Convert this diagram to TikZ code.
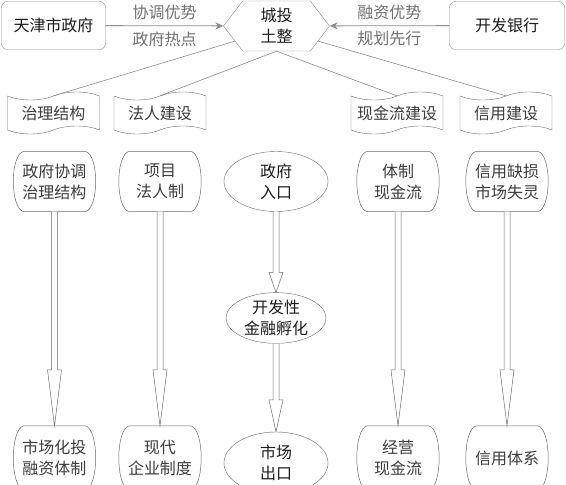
\documentclass[tikz,border=0pt]{standalone}
\usepackage{fontspec}
\setmainfont{Noto Sans CJK SC}
\usepackage{tikz}
\usetikzlibrary{arrows.meta,positioning,calc,shapes.geometric,shapes.symbols}
\definecolor{edge}{HTML}{8C8C8C}
\definecolor{softedge}{HTML}{6A6A6A}
\definecolor{labeltext}{HTML}{707070}
\definecolor{ink}{HTML}{1C1C1C}
\definecolor{softink}{HTML}{3C3C3C}

% hollow downward arrow: from node, to node, head length
\newcommand{\hollowdown}[3]{%
  \draw[outline] ($(#1.south)+(-3,0)$) -- ($(#2.north)+(-3,#3)$) -- ($(#2.north)+(-7,#3)$)
    -- (#2.north) -- ($(#2.north)+(7,#3)$) -- ($(#2.north)+(3,#3)$) -- ($(#1.south)+(3,0)$);}

\begin{document}
\begin{tikzpicture}[x=1pt,y=1pt,
    txt/.style={font=\fontsize{16}{21}\selectfont,align=center},
    govbox/.style={txt,draw=edge,rounded corners=6pt,minimum height=48pt,text=ink},
    hexnode/.style={txt,signal,signal to=west and east,signal pointer angle=105,draw=edge,
      minimum width=106pt,minimum height=50pt,inner sep=0pt,text=ink},
    tapebox/.style={txt,tape,draw=softedge,minimum width=92pt,minimum height=42pt,
      tape bend height=8pt,inner sep=0pt,text=softink},
    bulge/.style={txt,minimum width=77pt,minimum height=60pt,inner sep=0pt,text=softink},
    frame/.style={draw=softedge,line width=0.5pt},
    oval/.style={txt,ellipse,draw=softedge,minimum width=104pt,minimum height=60pt,
      inner sep=0pt,text=ink},
    feed/.style={draw=edge,line width=0.8pt,-{Stealth[length=8pt,width=7pt]}},
    spoke/.style={draw=edge,line width=0.6pt},
    outline/.style={draw=softedge,fill=white,line width=0.5pt,line join=miter},
    tag/.style={txt,text=labeltext}]
  \useasboundingbox (0,0) rectangle (566,485);
  \clip (0,0) rectangle (566,485);

  % top row
  \node[govbox,minimum width=104pt] (gov) at (53.5,459.5) {天津市政府};
  \node[govbox,minimum width=115pt] (bank) at (507,459.5) {开发银行};
  \node[hexnode] (hub) at (276.5,459) {城投\\土整};

  \draw[feed] (gov) -- (hub)
    node[tag,midway,above=2pt] {协调优势}
    node[tag,midway,below=2pt] {政府热点};
  \draw[feed] (bank) -- (hub)
    node[tag,midway,above=2pt] {融资优势}
    node[tag,midway,below=2pt] {规划先行};

  % tapes
  \node[tapebox] (gover) at (53.5,372) {治理结构};
  \node[tapebox] (legal) at (160,372) {法人建设};
  \node[tapebox] (cash) at (397,372) {现金流建设};
  \node[tapebox] (credit) at (506,372) {信用建设};

  \draw[spoke] (hub.200) -- (gover.north);
  \draw[spoke] (hub.south) -- (legal.north);
  \draw[spoke] (hub.south) -- (cash.north);
  \draw[spoke] (hub.340) -- (credit.north);

  % middle row
  \node[bulge] (coord) at (54.5,303.5) {政府协调\\治理结构};
  \node[bulge] (proj) at (160,303.5) {项目\\法人制};
  \node[oval] (entry) at (276,303.5) {政府\\入口};
  \node[bulge] (sys) at (398,303.5) {体制\\现金流};
  \node[bulge] (lack) at (507,303.5) {信用缺损\\市场失灵};

  \node[oval,minimum width=100pt,minimum height=50pt] (incub) at (276,167) {开发性\\金融孵化};

  % bottom row
  \node[bulge,minimum height=64pt] (mkt) at (54.5,27) {市场化投\\融资体制};
  \node[bulge,minimum height=64pt] (firm) at (160,27) {现代\\企业制度};
  \node[oval,minimum height=62pt] (exit) at (276,22) {市场\\出口};
  \node[bulge,minimum height=64pt] (oper) at (398,27) {经营\\现金流};
  \node[bulge,minimum height=64pt] (csys) at (507,27) {信用体系};

  % bulged frames
  \foreach \n in {coord,proj,sys,lack,mkt,firm,oper,csys}
    \draw[frame] ($(\n.north west)+(8,0)$) -- ($(\n.north east)+(-8,0)$)
      .. controls ($(\n.north east)+(6,-3)$) and ($(\n.south east)+(6,3)$) .. ($(\n.south east)+(-8,0)$)
      -- ($(\n.south west)+(8,0)$)
      .. controls ($(\n.south west)+(-6,3)$) and ($(\n.north west)+(-6,-3)$) .. cycle;

  \hollowdown{coord}{mkt}{56}
  \hollowdown{proj}{firm}{56}
  \hollowdown{entry}{incub}{20}
  \hollowdown{incub}{exit}{32}
  \hollowdown{sys}{oper}{56}
  \hollowdown{lack}{csys}{56}
\end{tikzpicture}
\end{document}
